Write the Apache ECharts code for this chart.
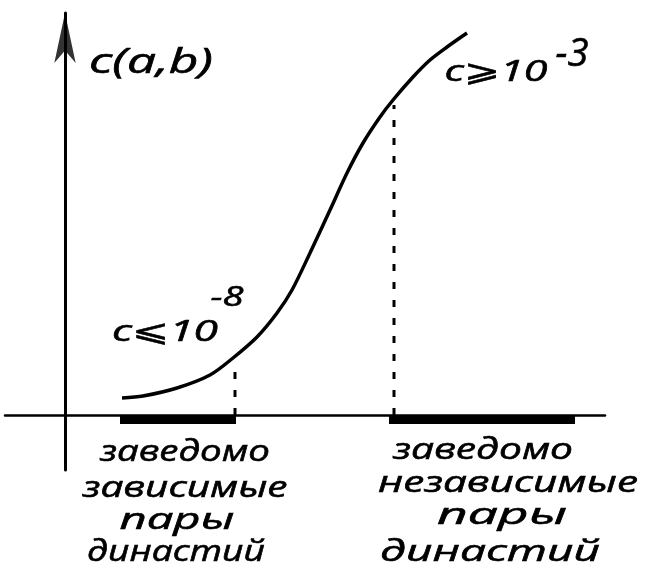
<!DOCTYPE html>
<html><head><meta charset="utf-8">
<script src="https://cdn.jsdelivr.net/npm/echarts@6/dist/echarts.min.js"></script>
<style>html,body{margin:0;padding:0;background:#fff}#c{width:650px;height:578px}</style>
</head><body><div id="c"></div>
<script>
// ---- data (arbitrary schematic units) ----
const curveX = [5.7, 7.8, 11.2, 14.5, 16.8, 19.2, 21.2, 22.7, 24.5, 26.5, 28.2, 29.8, 31.5, 32.8, 34.8, 36.5, 38.2, 40.2];
const curveY = [1.7, 1.9, 2.7, 4.0, 5.7, 7.8, 10.2, 12.5, 16.2, 20.5, 24.2, 27.2, 29.8, 31.5, 33.8, 35.5, 36.8, 38.2];
const dependentRange = [5.5, 17.1];
const independentRange = [32.4, 51.0];
const lowThreshold = [17.0, 4.7];   // x, top of dashed line
const highThreshold = [32.9, 31.0];
const barLevel = -0.45;
const X_MIN = -6, X_MAX = 54, Y_MIN = -5.5, Y_MAX = 40.2;
const axisTitle = 'c(a,b)';
const lowLabel = ['c⩽10', '-8'];
const highLabel = ['c⩾10', '-3'];
const dependentText = ['заведомо', 'зависимые', 'пары', 'династий'];
const independentText = ['заведомо', 'независимые', 'пары', 'династий'];

// ---- layout (pixels) ----
const FONT = '"Open Sans", "Noto Sans", "DejaVu Sans", sans-serif';
const mctx = document.createElement('canvas').getContext('2d');
function txt(text, cx, cy, width, size) {
  mctx.font = 'italic ' + size + 'px ' + FONT;
  const w = mctx.measureText(text).width || 1;
  return {
    type: 'text', x: cx, y: cy, scaleX: width / w, z: 100,
    style: {
      text: text, fontSize: size, fontStyle: 'italic', fontFamily: FONT, fill: '#000',
      stroke: '#000', lineWidth: 0.6,
      textAlign: 'center', align: 'center', textVerticalAlign: 'middle', verticalAlign: 'middle'
    }
  };
}
const depPos = [[185, 452, 170], [185, 488, 205], [177, 520, 115], [176, 552, 178]];
const indPos = [[483, 450, 180], [508, 483, 260], [502, 515, 130], [490, 552, 220]];
const graphics = [
  txt(axisTitle, 151, 63, 124, 34),
  txt(highLabel[0], 496, 72, 103, 30),
  txt(highLabel[1], 572, 55, 33, 38),
  txt(lowLabel[0], 165, 332, 106, 30),
  txt(lowLabel[1], 227, 298, 33, 28)
];
dependentText.forEach((t, i) => graphics.push(txt(t, depPos[i][0], depPos[i][1], depPos[i][2], 30)));
independentText.forEach((t, i) => graphics.push(txt(t, indPos[i][0], indPos[i][1], indPos[i][2], 30)));

const chart = echarts.init(document.getElementById('c'));
chart.setOption({
  backgroundColor: '#fff',
  animation: false,
  grid: { left: 5, right: 45, top: 13, bottom: 108 },
  xAxis: {
    type: 'value', min: X_MIN, max: X_MAX,
    axisLine: { show: true, onZero: true, lineStyle: { color: '#000', width: 2.5 } },
    axisTick: { show: false }, axisLabel: { show: false }, splitLine: { show: false }
  },
  yAxis: {
    type: 'value', min: Y_MIN, max: Y_MAX,
    axisLine: { show: true, onZero: true, lineStyle: { color: '#000', width: 3 } },
    axisTick: { show: false }, axisLabel: { show: false }, splitLine: { show: false }
  },
  series: [
    {
      type: 'line', smooth: 0.3, showSymbol: false, symbol: 'none',
      data: curveX.map((x, i) => [x, curveY[i]]),
      lineStyle: { color: '#000', width: 3.5 }
    },
    {
      type: 'line', showSymbol: false, symbol: 'none',
      data: [[lowThreshold[0], 0], [lowThreshold[0], lowThreshold[1]]],
      lineStyle: { color: '#000', width: 3, type: [7, 11] }
    },
    {
      type: 'line', showSymbol: false, symbol: 'none',
      data: [[highThreshold[0], 0], [highThreshold[0], highThreshold[1]]],
      lineStyle: { color: '#000', width: 3, type: [7, 11] }
    },
    {
      type: 'line', showSymbol: false, symbol: 'none',
      data: [[dependentRange[0], barLevel], [dependentRange[1], barLevel]],
      lineStyle: { color: '#000', width: 9 }
    },
    {
      type: 'line', showSymbol: false, symbol: 'none',
      data: [[independentRange[0], barLevel], [independentRange[1], barLevel]],
      lineStyle: { color: '#000', width: 9 }
    },
    {
      // arrowhead at the top of the vertical axis
      type: 'scatter', symbol: 'arrow', symbolSize: [16, 50], symbolOffset: [0, 0],
      data: [[0, Y_MAX]], itemStyle: { color: '#000' }, silent: true, z: 5
    }
  ],
  graphic: graphics
});
</script></body></html>
